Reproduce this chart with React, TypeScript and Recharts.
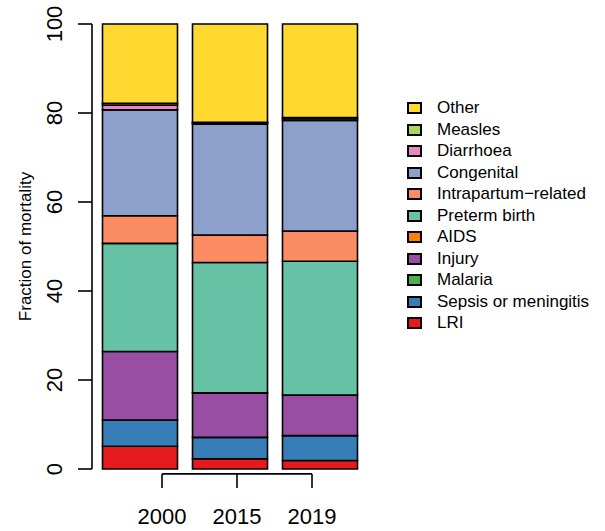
import React from 'react';
import {
  ComposedChart,
  Bar,
  XAxis,
  YAxis,
  ReferenceLine,
} from 'recharts';

// years shown under the bars
const years = ['2000', '2015', '2019'];

// percentage of deaths per cause, one value per year (bottom of the stack first)
const lri = [5.1, 2.3, 1.9];
const sepsis = [5.9, 4.8, 5.6];
const malaria = [0, 0, 0];
const injury = [15.4, 10.0, 9.1];
const aids = [0, 0, 0];
const preterm = [24.3, 29.3, 30.1];
const intrapartum = [6.2, 6.2, 6.8];
const congenital = [23.8, 24.9, 24.8];
const diarrhoea = [1.1, 0.3, 0.4];
const measles = [0.4, 0.1, 0.3];
const other = [17.8, 22.1, 21.0];

const yTicks = [0, 20, 40, 60, 80, 100];

const series = [
  { name: 'LRI', values: lri, color: '#E41A1C' },
  { name: 'Sepsis or meningitis', values: sepsis, color: '#377EB8' },
  { name: 'Malaria', values: malaria, color: '#4DAF4A' },
  { name: 'Injury', values: injury, color: '#984EA3' },
  { name: 'AIDS', values: aids, color: '#FF7F00' },
  { name: 'Preterm birth', values: preterm, color: '#66C2A5' },
  { name: 'Intrapartum\u2212related', values: intrapartum, color: '#FC8D62' },
  { name: 'Congenital', values: congenital, color: '#8DA0CB' },
  { name: 'Diarrhoea', values: diarrhoea, color: '#E78AC3' },
  { name: 'Measles', values: measles, color: '#A6D854' },
  { name: 'Other', values: other, color: '#FFD92F' },
];

const data = years.map((year, i) => {
  const row: Record<string, string | number> = { year };
  series.forEach((s) => {
    row[s.name] = s.values[i];
  });
  return row;
});

const FONT = '"Liberation Sans", Arial, Helvetica, sans-serif';

const YTick = (props: any) => {
  const { x, y, payload } = props;
  return (
    <text
      x={x}
      y={y}
      transform={`rotate(-90, ${x}, ${y})`}
      textAnchor="middle"
      fontSize={22}
      fontFamily={FONT}
      fill="#000"
    >
      {payload.value}
    </text>
  );
};

// year labels hang off a bracket that is offset from the bars, like R's axis(1, at = 1:3)
const XTick = (props: any) => {
  const { x, y, payload } = props;
  return (
    <g>
      <line x1={x} x2={x} y1={y + 5} y2={y + 19} stroke="#000" strokeWidth={1.6} />
      <text x={x} y={y + 55} textAnchor="middle" fontSize={22} fontFamily={FONT} fill="#000">
        {payload.value}
      </text>
    </g>
  );
};

export default function App() {
  return (
    <div style={{ position: 'absolute', left: 0, top: 0, width: 605, height: 531, background: '#fff' }}>
      <ComposedChart
        width={605}
        height={531}
        data={data}
        margin={{ top: 24, right: 238, bottom: 0, left: 0 }}
      >
        <XAxis
          xAxisId="bars"
          dataKey="year"
          orientation="top"
          hide
          padding={{ left: 2.5, right: 2.5 }}
        />
        <XAxis
          xAxisId="labels"
          dataKey="year"
          padding={{ left: 32.5, right: 17.5 }}
          height={62}
          axisLine={false}
          tickLine={false}
          tickSize={0}
          tickMargin={0}
          tick={<XTick />}
        />
        <YAxis
          domain={[0, 100]}
          ticks={yTicks}
          width={92}
          axisLine={{ stroke: '#000', strokeWidth: 1.6 }}
          tickLine={{ stroke: '#000', strokeWidth: 1.6 }}
          tickSize={14}
          tickMargin={16}
          tick={<YTick />}
          label={{
            value: 'Fraction of mortality',
            angle: -90,
            position: 'insideLeft',
            offset: 25,
            style: { fontSize: 17, fontFamily: FONT, fill: '#000', textAnchor: 'middle' },
          }}
        />
        {series.map((s) => (
          <Bar
            key={s.name}
            xAxisId="bars"
            dataKey={s.name}
            stackId="a"
            fill={s.color}
            stroke="#000"
            strokeWidth={1.6}
            barSize={75}
            isAnimationActive={false}
          />
        ))}
        <ReferenceLine
          xAxisId="labels"
          segment={[
            { x: years[0], y: -1.1 },
            { x: years[years.length - 1], y: -1.1 },
          ]}
          stroke="#000"
          strokeWidth={1.6}
          ifOverflow="visible"
        />
      </ComposedChart>
      <div
        style={{
          position: 'absolute',
          left: 407,
          top: 97.5,
          fontFamily: FONT,
          fontSize: 17,
          color: '#000',
        }}
      >
        {[...series].reverse().map((s) => (
          <div key={s.name} style={{ display: 'flex', alignItems: 'center', height: 21.5 }}>
            <span
              style={{
                display: 'inline-block',
                width: 15,
                height: 12,
                boxSizing: 'border-box',
                border: '2px solid #000',
                background: s.color,
                marginRight: 15,
              }}
            />
            <span style={{ whiteSpace: 'nowrap' }}>{s.name}</span>
          </div>
        ))}
      </div>
    </div>
  );
}
